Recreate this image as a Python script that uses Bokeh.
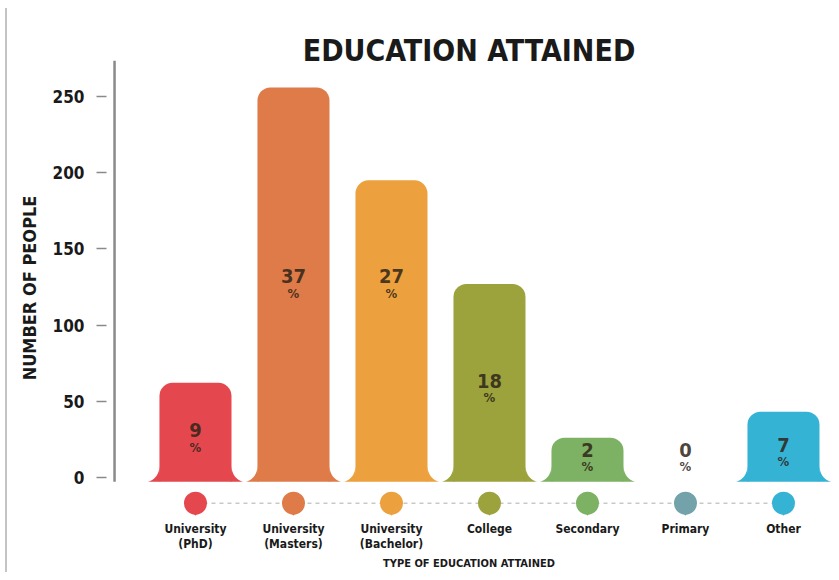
import numpy as np
from bokeh.plotting import figure
from bokeh.models import Range1d, FixedTicker, InlineStyleSheet
from bokeh.core.properties import value
from bokeh.embed import file_html
from bokeh.resources import INLINE

# ---- data ----
categories = ["University\n(PhD)", "University\n(Masters)", "University\n(Bachelor)",
              "College", "Secondary", "Primary", "Other"]
people = [62, 256, 195, 127, 26, 0, 43]
percents = [9, 37, 27, 18, 2, 0, 7]
colors = ["#E4484E", "#DE7B48", "#EDA13E", "#9CA23C", "#7DB163", "#73A2AA", "#35B3D5"]
y_ticks = [0, 50, 100, 150, 200, 250]
title_text = "EDUCATION ATTAINED"
y_title = "NUMBER OF PEOPLE"
x_title = "TYPE OF EDUCATION ATTAINED"

# ---- styling constants ----
FONT = "DejaVu Sans Condensed"
BAR_W = 0.735
BASE = -3
FLARE_W = 0.14
FLARE_H = 10.5
DOT_Y = -17
X0, X1 = -0.908, 6.49
Y0, Y1 = -25.1, 273.7
AXIS_X = X0 + 0.082

xs = list(range(len(categories)))

border_css = InlineStyleSheet(css="""
:host::after { content: ""; position: absolute; left: 5px; top: 8px; bottom: 0;
  width: 2px; background: #c4c4c4; z-index: 5; pointer-events: none; }
""")

p = figure(width=831, height=572, output_backend="svg", toolbar_location=None,
           x_range=Range1d(X0, X1), y_range=Range1d(Y0, Y1),
           min_border_left=106, min_border_right=0, min_border_top=60,
           min_border_bottom=54, background_fill_color="white",
           border_fill_color="white", stylesheets=[border_css])
p.outline_line_color = None
p.grid.visible = False

p.title.text = title_text
p.title.align = "center"
p.title.text_font = FONT
p.title.text_font_size = "30px"
p.title.text_font_style = "bold"
p.title.text_color = "#1a1a1a"
p.title.standoff = -14

# bars (only non-zero values)
bx = [x for x, v in zip(xs, people) if v > 0]
btop = [v for v in people if v > 0]
bcol = [c for c, v in zip(colors, people) if v > 0]
p.vbar(x=bx, width=BAR_W, top=btop, bottom=BASE, fill_color=bcol,
       line_color=None, border_radius=(13, 13, 0, 0))

# flared bases
t = np.linspace(0, np.pi / 2, 14)
pxs, pys, pcs = [], [], []
for x, c in zip(bx, bcol):
    xl = x - BAR_W / 2
    xr = x + BAR_W / 2
    lx = list(xl - FLARE_W + FLARE_W * np.sin(t)) + [xl + 0.01]
    ly = list(BASE + FLARE_H * (1 - np.cos(t))) + [BASE]
    rx = list(xr + FLARE_W - FLARE_W * np.sin(t)) + [xr - 0.01]
    pxs += [lx, rx]
    pys += [ly, ly]
    pcs += [c, c]
p.patches(xs=pxs, ys=pys, fill_color=pcs, line_color=None)

# percentage labels
num_y = [132 if v > 150 else max(18, v * 0.5) for v in people]
p.text(x=xs, y=num_y, text=[str(v) for v in percents], text_align="center",
       text_baseline="middle", text_font=value(FONT), text_font_style="bold",
       text_font_size="20px", text_color="#2e2418", text_alpha=0.85)
p.text(x=xs, y=num_y, text=["%"] * len(xs), y_offset=17, text_align="center",
       text_baseline="middle", text_font=value(FONT), text_font_style="bold",
       text_font_size="13px", text_color="#2e2418", text_alpha=0.85)

# dotted connector and category dots
p.line(x=xs, y=[DOT_Y] * len(xs), line_dash="4 4", line_color="#c8c8c8", line_width=1.5)
p.scatter(x=xs, y=[DOT_Y - 5.5] * len(xs), marker="inverted_triangle", size=8,
          fill_color=colors, line_color=None)
p.scatter(x=xs, y=[DOT_Y] * len(xs), marker="circle", size=23,
          fill_color=colors, line_color=None)

# custom y axis line (only down to the base)
p.segment(x0=[AXIS_X], y0=[BASE], x1=[AXIS_X], y1=[Y1],
          line_color="#8a8a8a", line_width=2.5)

# y axis
ya = p.yaxis[0]
ya.ticker = FixedTicker(ticks=y_ticks)
ya.axis_line_color = None
ya.major_tick_out = 10
ya.major_tick_in = 0
ya.major_tick_line_color = "#8a8a8a"
ya.major_tick_line_width = 1.5
ya.minor_tick_line_color = None
ya.major_label_standoff = 12
ya.major_label_text_font = FONT
ya.major_label_text_font_style = "bold"
ya.major_label_text_font_size = "17px"
ya.major_label_text_color = "#1a1a1a"
ya.axis_label = y_title
ya.axis_label_text_font = FONT
ya.axis_label_text_font_style = "bold"
ya.axis_label_text_font_size = "18px"
ya.axis_label_text_color = "#1a1a1a"
ya.axis_label_standoff = 10

# x axis
xa = p.xaxis[0]
xa.ticker = FixedTicker(ticks=xs)
xa.major_label_overrides = {i: c for i, c in zip(xs, categories)}
xa.axis_line_color = None
xa.major_tick_line_color = None
xa.minor_tick_line_color = None
xa.major_tick_out = 0
xa.major_tick_in = 0
xa.major_label_standoff = 6
xa.major_label_text_font = FONT
xa.major_label_text_font_style = "bold"
xa.major_label_text_font_size = "12px"
xa.major_label_text_line_height = 1.1
xa.major_label_text_color = "#1a1a1a"
xa.axis_label = x_title
xa.axis_label_text_font = FONT
xa.axis_label_text_font_style = "bold"
xa.axis_label_text_font_size = "11px"
xa.axis_label_text_line_height = 1.0
xa.axis_label_text_color = "#1a1a1a"
xa.axis_label_standoff = 3

open("out.html", "w").write(file_html(p, INLINE))
